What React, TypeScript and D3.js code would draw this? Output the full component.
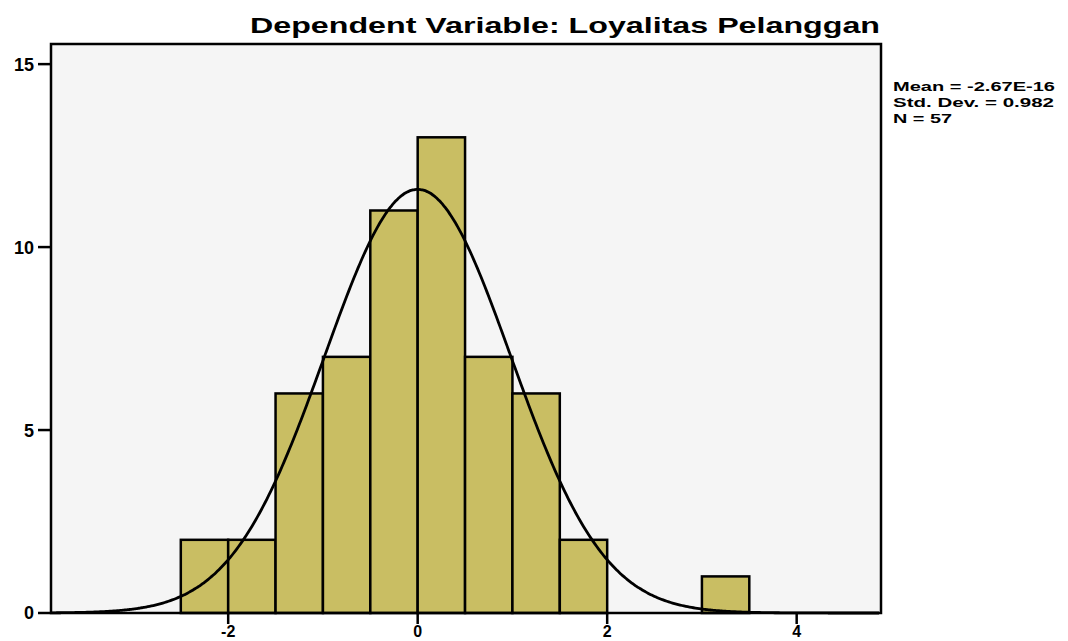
import React from "react";
import * as d3 from "d3";

// histogram bins (lower edge, upper edge, count)
const binStarts = [-2.5, -2, -1.5, -1, -0.5, 0, 0.5, 1, 1.5, 2, 2.5, 3];
const binCounts = [2, 2, 6, 7, 11, 13, 7, 6, 2, 0, 0, 1];
const binWidth = 0.5;

const xTicks = [-2, 0, 2, 4];
const yTicks = [0, 5, 10, 15];

const title = "Dependent Variable: Loyalitas Pelanggan";
const statLines = ["Mean = -2.67E-16", "Std. Dev. = 0.982", "N = 57"];
const statWidths = [162, 161, 59];

// normal curve parameters shown in the legend
const mean = 0;
const sd = 0.982;
const n = 57;

const W = 1068;
const H = 641;
const margin = { top: 44, right: 187, bottom: 28, left: 51 };
const font = "'Liberation Sans', Arial, sans-serif";

export default function App() {
  const innerW = W - margin.left - margin.right;
  const innerH = H - margin.top - margin.bottom;

  const x = d3.scaleLinear().domain([-3.87, 4.89]).range([0, innerW]);
  const y = d3.scaleLinear().domain([0, 15.55]).range([innerH, 0]);

  // density curve scaled to counts
  const curveXs = d3.range(-3.87, 4.89, 0.02);
  const density = (v: number) =>
    (n * binWidth * Math.exp(-0.5 * ((v - mean) / sd) ** 2)) /
    (sd * Math.sqrt(2 * Math.PI));
  const line = d3
    .line<number>()
    .x((d) => x(d))
    .y((d) => y(density(d)))
    .curve(d3.curveBasis);

  const bars = binStarts
    .map((s, i) => ({ s, c: binCounts[i] }))
    .filter((d) => d.c > 0);

  return (
    <svg
      width={W}
      height={H}
      style={{ position: "absolute", left: 0, top: 0, background: "#fff" }}
    >
      <text
        x={880}
        y={33}
        textAnchor="end"
        fontFamily={font}
        fontWeight="bold"
        fontSize={22}
        textLength={630}
        lengthAdjust="spacingAndGlyphs"
      >
        {title}
      </text>

      <g transform={`translate(${margin.left},${margin.top})`}>
        <rect x={0} y={0} width={innerW} height={innerH} fill="#f5f5f5" />

        {bars.map((d, i) => (
          <rect
            key={i}
            x={x(d.s)}
            y={y(d.c)}
            width={x(d.s + binWidth) - x(d.s)}
            height={innerH - y(d.c)}
            fill="#c9be63"
            stroke="#000"
            strokeWidth={2.5}
          />
        ))}

        <path
          d={line(curveXs) || ""}
          fill="none"
          stroke="#000"
          strokeWidth={2.8}
        />

        <rect
          x={0}
          y={0}
          width={innerW}
          height={innerH}
          fill="none"
          stroke="#000"
          strokeWidth={2.5}
        />

        {yTicks.map((t) => (
          <g key={t} transform={`translate(0,${y(t)})`}>
            <line x1={-13} x2={0} stroke="#000" strokeWidth={2.5} />
            <text
              x={-17}
              dy="0.36em"
              textAnchor="end"
              fontFamily={font}
              fontWeight="bold"
              fontSize={18}
            >
              {t}
            </text>
          </g>
        ))}

        {xTicks.map((t) => (
          <g key={t} transform={`translate(${x(t)},${innerH})`}>
            <line y1={0} y2={11} stroke="#000" strokeWidth={2.5} />
            <text
              y={24}
              textAnchor="middle"
              fontFamily={font}
              fontWeight="bold"
              fontSize={16}
            >
              {t}
            </text>
          </g>
        ))}
      </g>

      {statLines.map((s, i) => (
        <text
          key={i}
          x={893}
          y={91 + i * 16}
          fontFamily={font}
          fontWeight="bold"
          fontSize={13.5}
          textLength={statWidths[i]}
          lengthAdjust="spacingAndGlyphs"
        >
          {s}
        </text>
      ))}
    </svg>
  );
}
